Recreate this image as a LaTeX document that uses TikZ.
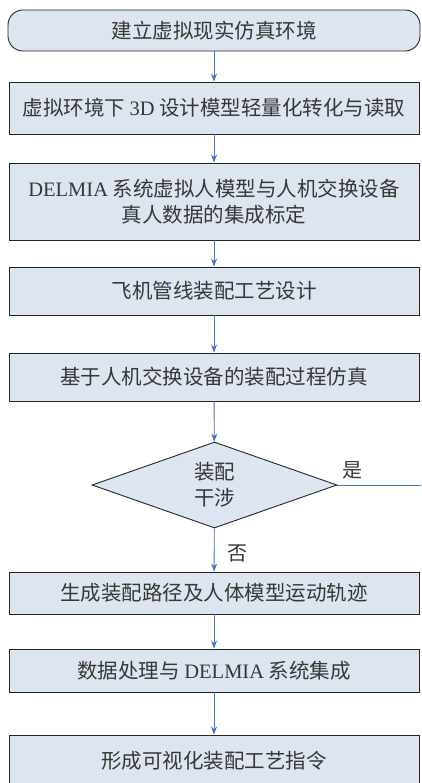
\documentclass[tikz,border=0pt]{standalone}
\usepackage{fontspec}
\setmainfont{Noto Sans CJK SC}
\newfontfamily\lat{Liberation Serif}
\usetikzlibrary{shapes.geometric,arrows.meta}
\definecolor{boxfill}{RGB}{221,229,240}
\definecolor{arrowblue}{RGB}{68,114,196}
\definecolor{txt}{RGB}{55,55,55}
\begin{document}
\begin{tikzpicture}[x=1pt,y=-1pt,
  stepbox/.style={draw=black!85, line width=0.9pt, fill=boxfill, text=txt,
    minimum width=410pt, inner sep=0pt, font=\fontsize{20.5}{26}\selectfont, align=center},
  flow/.style={draw=arrowblue, line width=0.9pt, -{Stealth[length=8pt,width=6pt]}},
  lbl/.style={text=txt, font=\fontsize{20}{24}\selectfont, inner sep=0pt}]
\useasboundingbox (0,0) rectangle (421,783);
\node[stepbox, rounded corners=15pt, minimum width=412pt, minimum height=41pt] (n1) at (214,30.5) {建立虚拟现实仿真环境};
\node[stepbox, minimum height=52pt] (n2) at (214,108) {虚拟环境下 {\lat 3D} 设计模型轻量化转化与读取};
\node[stepbox, minimum height=77pt] (n3) at (214,201.5) {{\lat DELMIA} 系统虚拟人模型与人机交换设备\\真人数据的集成标定};
\node[stepbox, minimum height=48pt] (n4) at (214,291) {飞机管线装配工艺设计};
\node[stepbox, minimum height=48pt] (n5) at (214,377) {基于人机交换设备的装配过程仿真};
\node[diamond, draw=black!85, line width=0.9pt, fill=boxfill, text=txt, aspect=2.85,
  minimum width=245pt, minimum height=86pt, inner sep=0pt, align=center,
  font=\fontsize{20.5}{26}\selectfont] (d) at (214.5,485) {装配\\干涉};
\node[stepbox, minimum height=42pt] (n6) at (214,593) {生成装配路径及人体模型运动轨迹};
\node[stepbox, minimum height=43pt] (n7) at (214,670.5) {数据处理与 {\lat DELMIA} 系统集成};
\node[stepbox, minimum height=52pt] (n8) at (214,761) {形成可视化装配工艺指令};
\coordinate (yesend) at (421,485);
\draw[flow] (n1) -- (n2);
\draw[flow] (n2) -- (n3);
\draw[flow] (n3) -- (n4);
\draw[flow] (n4) -- (n5);
\draw[flow] (n5) -- (d);
\draw[flow] (d) -- (n6);
\draw[flow] (n6) -- (n7);
\draw[flow] (n7) -- (n8);
\draw[draw=arrowblue, line width=0.9pt] (d.east) -- (yesend);
\node[lbl] (yes) at (352,470) {是};
\node[lbl] (no) at (237,553) {否};
\end{tikzpicture}
\end{document}
